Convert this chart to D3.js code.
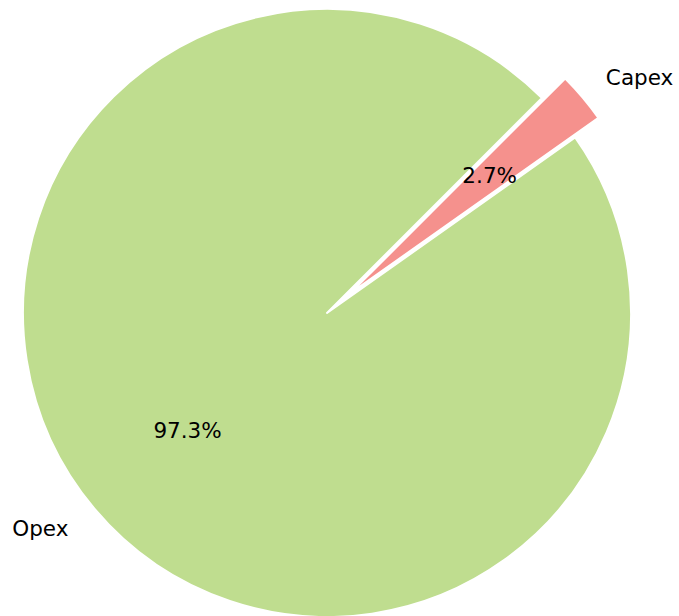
<!DOCTYPE html>
<html>
<head>
<meta charset="utf-8">
<script src="https://cdn.jsdelivr.net/npm/d3@7"></script>
<style>
  html, body { margin: 0; padding: 0; background: #fff; }
  svg { display: block; }
  text { font-family: "DejaVu Sans", sans-serif; fill: #000; }
</style>
</head>
<body>
<div id="chart"></div>
<script>
// ---- data ----
const categories = ['Opex', 'Capex'];
const shares = [97.3, 2.7];
const explode = [0, 0.1];
const colors = ['#bfdd8f', '#f5918d'];

(function () {
  const W = 679, H = 616;
  const cx = 327, cy = 313, R = 304;
  const startDeg = 45; // counter-clockwise from +x, like matplotlib
  const fontSize = '21.5px';

  const svg = d3.select('#chart').append('svg')
    .attr('width', W).attr('height', H);
  const g = svg.append('g').attr('transform', `translate(${cx},${cy})`);

  const rows = categories.map((c, i) => ({ name: c, value: shares[i], explode: explode[i], color: colors[i] }));
  const total = d3.sum(rows, d => d.value);

  // d3 angles: 0 at 12 o'clock, clockwise -> going negative = counter-clockwise
  const a0 = (90 - startDeg) * Math.PI / 180;
  const pie = d3.pie().sort(null).value(d => d.value)
    .startAngle(a0).endAngle(a0 - 2 * Math.PI);
  const arc = d3.arc().innerRadius(0).outerRadius(R);

  const arcs = pie(rows);
  arcs.forEach(d => {
    d.mid = (d.startAngle + d.endAngle) / 2;
    d.dx = Math.sin(d.mid);
    d.dy = -Math.cos(d.mid);
    d.ox = d.data.explode * R * d.dx;
    d.oy = d.data.explode * R * d.dy;
  });

  const slice = g.selectAll('.slice').data(arcs).enter()
    .append('g').attr('class', 'slice')
    .attr('transform', d => `translate(${d.ox},${d.oy})`);

  slice.append('path')
    .attr('d', arc)
    .attr('fill', d => d.data.color)
    .attr('stroke', '#fff')
    .attr('stroke-width', 2)
    .attr('stroke-linejoin', 'round');

  // category labels at 1.1 R
  slice.append('text')
    .attr('x', d => 1.1 * R * d.dx + (d.dx > 0 ? 0 : -3))
    .attr('y', d => 1.1 * R * d.dy)
    .attr('text-anchor', d => d.dx > 0 ? 'start' : 'end')
    .attr('dominant-baseline', 'central')
    .style('font-size', fontSize)
    .text(d => d.data.name);

  // percentage labels at 0.6 R
  slice.append('text')
    .attr('x', d => 0.6 * R * d.dx)
    .attr('y', d => 0.6 * R * d.dy)
    .attr('text-anchor', 'middle')
    .attr('dominant-baseline', 'central')
    .style('font-size', fontSize)
    .text(d => (d.data.value / total * 100).toFixed(1) + '%');
})();
</script>
</body>
</html>
